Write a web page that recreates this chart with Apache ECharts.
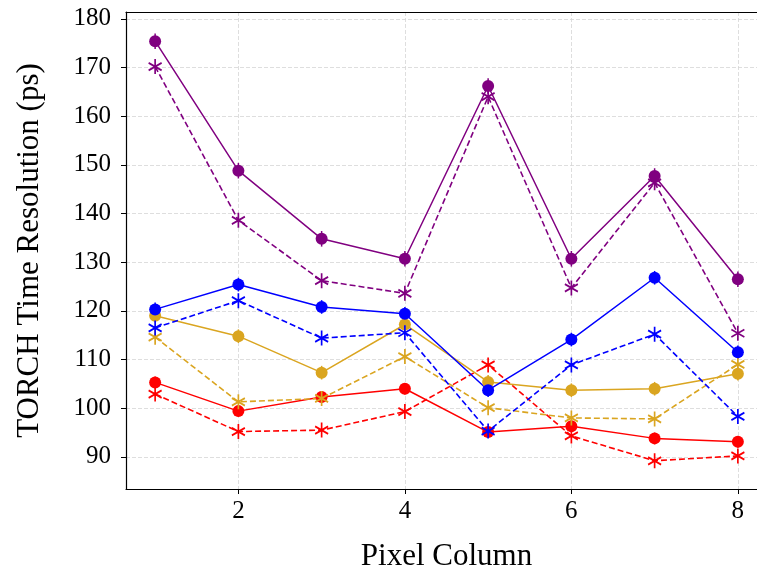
<!DOCTYPE html>
<html>
<head>
<meta charset="utf-8">
<script src="https://cdn.jsdelivr.net/npm/echarts@6/dist/echarts.min.js"></script>
<style>
  html, body { margin: 0; padding: 0; background: #fff; }
  #chart { width: 757px; height: 577px; }
</style>
</head>
<body>
<div id="chart"></div>
<script>
// Pixel columns along the x axis
const pixelColumns = [1, 2, 3, 4, 5, 6, 7, 8];
const xTicks = [2, 4, 6, 8];
const yTicks = [90, 100, 110, 120, 130, 140, 150, 160, 170, 180];

// Time resolution (ps) per pixel column; solid = circles, dashed = asterisks
const redSolid     = [105.3, 99.4, 102.3, 104.0, 95.1, 96.3, 93.8, 93.1];
const redDashed    = [102.9, 95.2, 95.5, 99.3, 108.9, 94.3, 89.2, 90.2];
const goldSolid    = [119.0, 114.8, 107.3, 117.2, 105.4, 103.7, 104.0, 107.1];
const goldDashed   = [114.6, 101.3, 102.0, 110.6, 100.1, 98.0, 97.8, 109.0];
const blueSolid    = [120.3, 125.4, 120.8, 119.4, 103.7, 114.1, 126.8, 111.5];
const blueDashed   = [116.5, 122.1, 114.4, 115.5, 95.3, 108.9, 115.2, 98.3];
const purpleSolid  = [175.4, 148.8, 134.8, 130.7, 166.2, 130.7, 147.7, 126.5];
const purpleDashed = [170.2, 138.6, 126.2, 123.6, 164.0, 124.7, 146.3, 115.4];

// Uncertainties on the solid-line measurements (ps)
const redErr    = [1.2, 1.2, 1.2, 1.2, 1.2, 1.2, 1.2, 1.2];
const goldErr   = [1.4, 1.4, 1.4, 1.4, 1.4, 1.4, 1.4, 1.4];
const blueErr   = [1.4, 1.4, 1.4, 1.4, 1.4, 1.4, 1.4, 1.4];
const purpleErr = [1.6, 1.6, 1.6, 1.6, 1.6, 1.6, 1.6, 1.6];

const FONT = 'Liberation Serif';
const ASTERISK = 'path://M0,0L0,20M-8.66,5L8.66,15M-8.66,15L8.66,5';

function pairs(vals) {
  return pixelColumns.map((x, i) => [x, vals[i]]);
}

function solidLine(color, vals) {
  return {
    type: 'line',
    data: pairs(vals),
    symbol: 'circle',
    symbolSize: 12,
    showSymbol: true,
    lineStyle: { color: color, width: 1.5 },
    itemStyle: { color: color },
    emphasis: { disabled: true },
    animation: false
  };
}

function dashedLine(color, vals) {
  return {
    type: 'line',
    data: pairs(vals),
    symbol: ASTERISK,
    symbolSize: [13, 15],
    showSymbol: true,
    lineStyle: { color: color, width: 1.6, type: [6, 3] },
    itemStyle: { color: color, borderColor: color, borderWidth: 1.8 },
    emphasis: { disabled: true },
    animation: false
  };
}

function errorBars(color, vals, errs) {
  return {
    type: 'custom',
    data: pixelColumns.map((x, i) => [x, vals[i], errs[i]]),
    renderItem: function (params, api) {
      const x = api.value(0), y = api.value(1), e = api.value(2);
      const top = api.coord([x, y + e]);
      const bot = api.coord([x, y - e]);
      return {
        type: 'line',
        shape: { x1: top[0], y1: top[1], x2: bot[0], y2: bot[1] },
        style: { stroke: color, lineWidth: 1.5 }
      };
    },
    animation: false,
    silent: true
  };
}

const RED = '#ff0000', GOLD = '#daa520', BLUE = '#0000ff', PURPLE = '#800080';

const gridLine = { show: true, lineStyle: { color: '#d6d6d6', width: 0.8, type: [4, 2] } };
const spine = { show: true, lineStyle: { color: '#000', width: 1.2 } };

const chart = echarts.init(document.getElementById('chart'), null, { renderer: 'canvas' });
chart.setOption({
  backgroundColor: '#fff',
  animation: false,
  grid: {
    left: 126, top: 12, width: 641, height: 477,
    outerBoundsMode: 'none',
    containLabel: false,
    show: false
  },
  xAxis: [{
    type: 'value',
    min: 0.65, max: 8.35,
    name: 'Pixel Column',
    nameLocation: 'middle',
    nameGap: 52,
    nameTextStyle: { fontFamily: FONT, fontSize: 31, color: '#000' },
    axisLine: spine,
    axisTick: { show: true, inside: false, length: 5, customValues: xTicks, lineStyle: { color: '#000', width: 1 } },
    axisLabel: { customValues: xTicks, fontFamily: FONT, fontSize: 25, color: '#000', margin: 10 },
    splitLine: gridLine
  }, {
    // top spine of the plot frame
    type: 'value',
    position: 'top',
    min: 0.65, max: 8.35,
    axisLine: spine,
    axisTick: { show: false },
    axisLabel: { show: false },
    splitLine: { show: false }
  }],
  yAxis: {
    type: 'value',
    min: 83.4, max: 181.4,
    name: 'TORCH Time Resolution (ps)',
    nameLocation: 'middle',
    nameGap: 81,
    nameTextStyle: { fontFamily: FONT, fontSize: 31, color: '#000' },
    axisLine: spine,
    axisTick: { show: true, inside: false, length: 5, customValues: yTicks, lineStyle: { color: '#000', width: 1 } },
    axisLabel: { customValues: yTicks, fontFamily: FONT, fontSize: 25, color: '#000', margin: 15 },
    splitLine: gridLine
  },
  series: [
    errorBars(RED, redSolid, redErr),
    solidLine(RED, redSolid),
    dashedLine(RED, redDashed),
    errorBars(GOLD, goldSolid, goldErr),
    solidLine(GOLD, goldSolid),
    dashedLine(GOLD, goldDashed),
    errorBars(BLUE, blueSolid, blueErr),
    solidLine(BLUE, blueSolid),
    dashedLine(BLUE, blueDashed),
    errorBars(PURPLE, purpleSolid, purpleErr),
    solidLine(PURPLE, purpleSolid),
    dashedLine(PURPLE, purpleDashed)
  ]
});
</script>
</body>
</html>
